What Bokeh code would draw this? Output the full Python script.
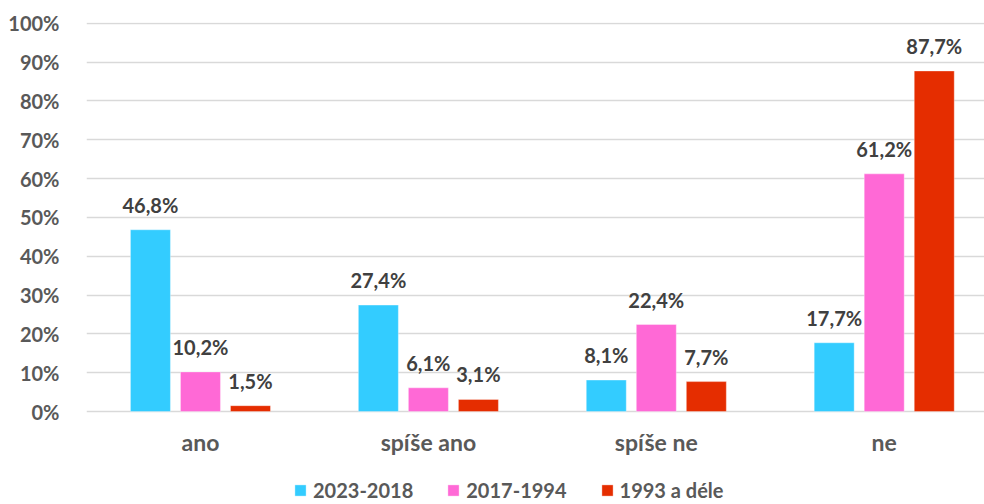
from bokeh.plotting import figure
from bokeh.models import (ColumnDataSource, Range1d, FixedTicker, LabelSet,
                          Legend, LegendItem, CustomJSTickFormatter)
from bokeh.core.properties import value
from bokeh.embed import file_html
from bokeh.resources import INLINE

categories = ["ano", "spíše ano", "spíše ne", "ne"]
series_names = ["2023-2018", "2017-1994", "1993 a déle"]
s2023_2018 = [46.8, 27.4, 8.1, 17.7]
s2017_1994 = [10.2, 6.1, 22.4, 61.2]
s1993 = [1.5, 3.1, 7.7, 87.7]
y_ticks = [0, 10, 20, 30, 40, 50, 60, 70, 80, 90, 100]

colors = ["#33CCFF", "#FF69D6", "#E52D00"]
offsets = [-0.2195, 0.0, 0.2195]
bar_w = 0.1755

FONT = "Lato"
GRAY = "#595959"
DARK = "#404040"

p = figure(width=984, height=504, output_backend="svg", toolbar_location=None,
           x_range=Range1d(-0.5, 3.44), y_range=Range1d(-23.95, 100.18),
           min_border_left=86, min_border_right=0, min_border_top=22, min_border_bottom=0)
p.outline_line_color = None
p.background_fill_color = "white"
p.border_fill_color = "white"

xs = list(range(len(categories)))
renderers = []
for i, (vals, name) in enumerate(zip([s2023_2018, s2017_1994, s1993], series_names)):
    src = ColumnDataSource(dict(
        x=[x + offsets[i] for x in xs],
        top=vals,
        lab=[("%.1f" % v).replace(".", ",") + "%" for v in vals],
    ))
    r = p.vbar(x="x", top="top", bottom=0, width=bar_w, source=src, fill_color=colors[i],
               line_color="white", line_alpha=0.35, line_width=1)
    renderers.append(r)
    labels = LabelSet(x="x", y="top", text="lab", source=src, text_align="center",
                      text_baseline="alphabetic", y_offset=17,
                      text_font=value(FONT), text_font_style="bold", text_font_size="20px",
                      text_color=DARK)
    p.add_layout(labels)

# category labels under the groups
cat_src = ColumnDataSource(dict(x=xs, y=[0] * len(xs), text=categories))
p.add_layout(LabelSet(x="x", y="y", text="text", source=cat_src, text_align="center",
                      text_baseline="alphabetic", y_offset=-39,
                      text_font=value(FONT), text_font_style="bold", text_font_size="23px",
                      text_color=GRAY))

# axes
p.yaxis.ticker = FixedTicker(ticks=y_ticks)
p.yaxis.formatter = CustomJSTickFormatter(code="return tick.toFixed(0) + '%';")
p.yaxis.axis_line_color = None
p.yaxis.major_tick_line_color = None
p.yaxis.minor_tick_line_color = None
p.yaxis.major_label_text_font = FONT
p.yaxis.major_label_text_font_style = "bold"
p.yaxis.major_label_text_font_size = "20px"
p.yaxis.major_label_text_color = GRAY
p.yaxis.major_label_standoff = 21
p.xaxis.visible = False

p.xgrid.grid_line_color = None
p.ygrid.ticker = FixedTicker(ticks=y_ticks)
p.ygrid.grid_line_color = "#D9D9D9"
p.ygrid.grid_line_width = 1.5

legend = Legend(items=[LegendItem(label=n, renderers=[r]) for n, r in zip(series_names, renderers)],
                orientation="horizontal", location=(207, 2),
                label_text_font=FONT, label_text_font_style="bold", label_text_font_size="20px",
                label_text_color=GRAY, glyph_width=14, glyph_height=14, label_standoff=6,
                spacing=33, padding=0, margin=0, border_line_color=None,
                background_fill_alpha=0, label_height=14)
p.add_layout(legend, "center")

open("out.html", "w").write(file_html(p, INLINE))
